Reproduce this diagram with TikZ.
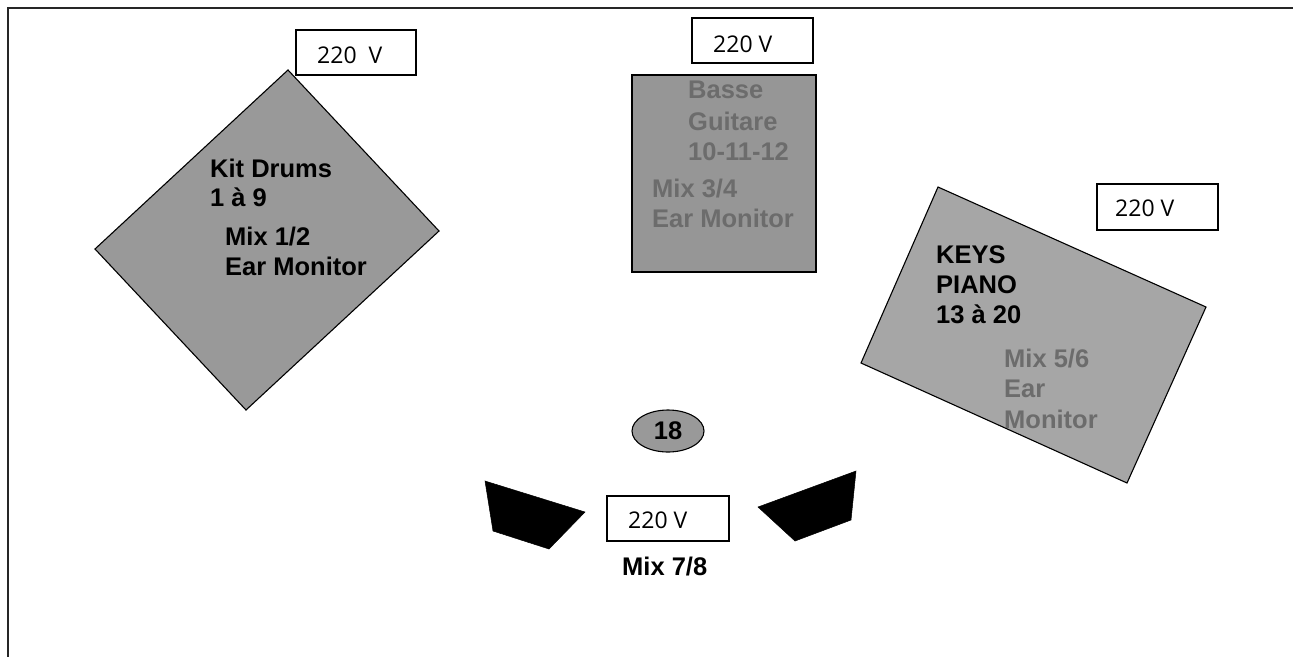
\documentclass[tikz,border=0pt]{standalone}
\usepackage{fontspec}
\setmainfont{Liberation Sans}
\newfontfamily\boxfont{Open Sans}
\usetikzlibrary{shapes.geometric}
\definecolor{drumfill}{RGB}{153,153,153}
\definecolor{bassfill}{RGB}{150,150,150}
\definecolor{keysfill}{RGB}{166,166,166}
\definecolor{dimtext}{RGB}{108,108,108}
\tikzset{
  frame/.style={line width=2pt, draw=black!85},
  vbox/.style={draw=black, line width=1.3pt, fill=white},
  vtext/.style={anchor=base west, inner sep=0pt, font=\boxfont\fontsize{23}{27}\selectfont},
  outl/.style={draw=black, line width=1.1pt},
  lbl/.style={anchor=base west, inner sep=0pt, font=\bfseries\fontsize{25.5}{30}\selectfont},
  wedge/.style={fill=black, draw=black, line width=0.5pt}
}
\begin{document}
\begin{tikzpicture}[x=1pt,y=-1pt]
\useasboundingbox (0,0) rectangle (1293,657);
% frame
\draw[frame] (1293,8) -- (8,8) -- (8,657);
% drums
\draw[outl, fill=drumfill] (288,70) -- (439,231) -- (246,410) -- (95,249) -- cycle;
\draw[vbox] (296,30) rectangle (416,75);
\node[vtext] (v1) at (317,63) {220\ \ V};
\node[lbl] (d1) at (210,177) {Kit Drums};
\node[lbl] (d2) at (210,206) {1 à 9};
\node[lbl] (d3) at (225,245) {Mix 1/2};
\node[lbl] (d4) at (225,275) {Ear Monitor};
% bass
\draw[vbox] (692,18) rectangle (813,63);
\node[vtext] (v2) at (713,52) {220 V};
\draw[outl, fill=bassfill] (632,75) rectangle (816,272);
\node[lbl, text=dimtext] (b1) at (688,98) {Basse};
\node[lbl, text=dimtext] (b2) at (688,130) {Guitare};
\node[lbl, text=dimtext] (b3) at (688,160) {10-11-12};
\node[lbl, text=dimtext] (b4) at (652,197) {Mix 3/4};
\node[lbl, text=dimtext] (b5) at (652,227) {Ear Monitor};
% keys
\draw[outl, fill=keysfill] (938,187) -- (1206,307) -- (1127,483) -- (861,363) -- cycle;
\draw[vbox] (1097,184) rectangle (1218,230);
\node[vtext] (v3) at (1115,216) {220 V};
\node[lbl] (k1) at (936,263) {KEYS};
\node[lbl] (k2) at (936,293) {PIANO};
\node[lbl] (k3) at (936,323) {13 à 20};
\node[lbl, text=dimtext] (k4) at (1004,367) {Mix 5/6};
\node[lbl, text=dimtext] (k5) at (1004,397) {Ear};
\node[lbl, text=dimtext] (k6) at (1004,428) {Monitor};
% sub 18
\node[ellipse, draw=black, line width=1.1pt, fill=drumfill, minimum width=72pt, minimum height=42pt, inner sep=0pt, font=\bfseries\fontsize{25.5}{30}\selectfont] (s18) at (668,431) {18};
% wedges
\fill[wedge] (485,481) -- (585,512) -- (549,549) -- (493,531) -- cycle;
\fill[wedge] (856,471) -- (851,520) -- (795,541) -- (758,507) -- cycle;
\draw[vbox] (607,496) rectangle (729,541);
\node[vtext] (v4) at (628,528) {220 V};
\node[lbl] (m78) at (622,575) {Mix 7/8};
\end{tikzpicture}
\end{document}
